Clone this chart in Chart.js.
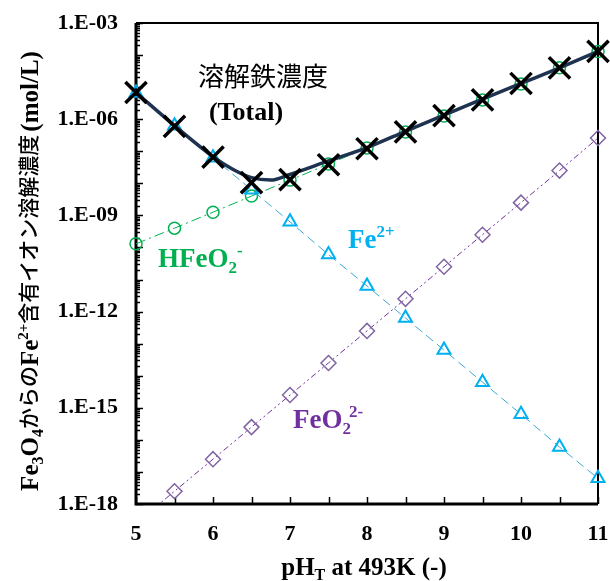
<!DOCTYPE html>
<html>
<head>
<meta charset="utf-8">
<script src="https://cdn.jsdelivr.net/npm/chart.js@4.4.0/dist/chart.umd.min.js"></script>
<style>
html,body{margin:0;padding:0;background:#fff;}
</style>
</head>
<body>
<canvas id="grafica" width="610" height="581"></canvas>
<script>
// pH points (0.5 step) and concentrations (mol/L)
var ph=[5,5.5,6,6.5,7,7.5,8,8.5,9,9.5,10,10.5,11];
var fe2=[6.6e-6,6.3e-7,6.3e-8,6.3e-9,6.3e-10,6.0e-11,6.3e-12,6.3e-13,6.3e-14,6.3e-15,6.3e-16,6.0e-17,6.3e-18];
var hfeo2=[1.3e-10,4.0e-10,1.26e-9,4.0e-9,1.26e-8,4.0e-8,1.26e-7,4.0e-7,1.26e-6,4.0e-6,1.26e-5,4.0e-5,1.3e-4];
var feo2=[2.5e-19,2.5e-18,2.5e-17,2.5e-16,2.5e-15,2.5e-14,2.5e-13,2.5e-12,2.5e-11,2.5e-10,2.5e-9,2.5e-8,2.6e-7];
var totalX=[6.8e-6,6.0e-7,6.6e-8,1.05e-8,1.3e-8,3.8e-8,1.2e-7,4.0e-7,1.3e-6,4.0e-6,1.3e-5,4.0e-5,1.3e-4];
// solid total curve
var phLinea=[5,5.5,6,6.25,6.5,6.75,7,7.5,8,8.5,9,9.5,10,10.5,11];
var totalLinea=[6.8e-6,6.3e-7,6.8e-8,2.8e-8,1.5e-8,1.26e-8,1.9e-8,5.0e-8,1.3e-7,4.2e-7,1.35e-6,4.2e-6,1.3e-5,4.0e-5,1.3e-4];
var ticksX=[5,6,7,8,9,10,11];
var ticksY=[1e-18,1e-15,1e-12,1e-9,1e-6,1e-3];

var serif="'Liberation Serif', 'Times New Roman', serif";
var cjk="'Noto Sans CJK JP', sans-serif";

function puntos(xs,ys){
  return xs.map(function(x,i){return {x:x,y:ys[i]};});
}

// draws a row of text pieces with their own font / offset
function textoRico(ctx,partes,x,y,centrado){
  var total=0;
  partes.forEach(function(p){
    ctx.font=p.f;
    p.w=ctx.measureText(p.t).width;
    total+=p.w+(p.g||0);
  });
  var cx=centrado?x-total/2:x;
  partes.forEach(function(p){
    ctx.font=p.f;
    ctx.fillText(p.t,cx,y+(p.dy||0));
    cx+=p.w+(p.g||0);
  });
}

var marco={
  id:'marco',
  beforeDatasetsDraw:function(chart){
    var ctx=chart.ctx,a=chart.chartArea,sx=chart.scales.x,sy=chart.scales.y;
    ctx.save();
    ctx.strokeStyle='#000';
    ctx.lineWidth=2;
    ctx.beginPath();
    ctx.moveTo(a.left,a.top);ctx.lineTo(a.right,a.top);ctx.lineTo(a.right,a.bottom);
    ctx.stroke();
    ctx.lineWidth=3;
    ctx.beginPath();
    ctx.moveTo(a.left,a.top);ctx.lineTo(a.left,a.bottom);ctx.lineTo(a.right,a.bottom);
    ctx.stroke();
    ctx.lineWidth=1.5;
    ctx.beginPath();
    for(var e=-18;e<=-3;e++){
      for(var m=1;m<10;m++){
        var v=m*Math.pow(10,e);
        if(v>1.0001e-3)break;
        var py=Math.round(sy.getPixelForValue(v))+0.5;
        ctx.moveTo(a.left,py);ctx.lineTo(a.left+(m==1?7:4),py);
      }
    }
    for(var t=5;t<=11;t+=0.5){
      var px=Math.round(sx.getPixelForValue(t))+0.5;
      ctx.moveTo(px,a.bottom);ctx.lineTo(px,a.bottom-7);
    }
    ctx.stroke();
    ctx.restore();
  },
  afterDraw:function(chart){
    var ctx=chart.ctx;
    ctx.save();
    ctx.textBaseline='alphabetic';
    ctx.fillStyle='#000';
    // x title
    textoRico(ctx,[
      {t:'pH',f:'bold 25px '+serif},
      {t:'T',f:'bold 16px '+serif,dy:5},
      {t:' at 493K (-)',f:'bold 25px '+serif}
    ],364,575,true);
    // y title
    ctx.save();
    ctx.translate(37.5,271);
    ctx.rotate(-Math.PI/2);
    textoRico(ctx,[
      {t:'Fe',f:'bold 25px '+serif},
      {t:'3',f:'bold 16px '+serif,dy:5},
      {t:'O',f:'bold 25px '+serif},
      {t:'4',f:'bold 16px '+serif,dy:5},
      {t:'からの',f:'500 21px '+cjk,dy:-2},
      {t:'Fe',f:'bold 25px '+serif},
      {t:'2+',f:'bold 15px '+serif,dy:-10},
      {t:'含有イオン溶解濃度',f:'500 21px '+cjk,dy:-2,g:3},
      {t:'(mol/L)',f:'bold 25px '+serif}
    ],0,0,true);
    ctx.restore();
    // labels inside the plot
    textoRico(ctx,[{t:'溶解鉄濃度',f:'26px '+cjk}],263,86,true);
    textoRico(ctx,[{t:'(Total)',f:'bold 26px '+serif}],246,120,true);
    ctx.fillStyle='#00B050';
    textoRico(ctx,[
      {t:'HFeO',f:'bold 27px '+serif},
      {t:'2',f:'bold 17px '+serif,dy:6},
      {t:'-',f:'bold 17px '+serif,dy:-11}
    ],158,267,false);
    ctx.fillStyle='#00B0F0';
    textoRico(ctx,[
      {t:'Fe',f:'bold 27px '+serif},
      {t:'2+',f:'bold 17px '+serif,dy:-11}
    ],348,248,false);
    ctx.fillStyle='#7030A0';
    textoRico(ctx,[
      {t:'FeO',f:'bold 27px '+serif},
      {t:'2',f:'bold 17px '+serif,dy:6,g:-2},
      {t:'2-',f:'bold 17px '+serif,dy:-11}
    ],293,428,false);
    ctx.restore();
  }
};

var grafica=new Chart(document.getElementById('grafica'),{
  type:'line',
  data:{
    datasets:[{
      label:'Total (X)',
      data:puntos(ph,totalX),
      showLine:false,
      pointStyle:'crossRot',
      pointRadius:15,
      pointBorderWidth:3.5,
      pointBorderColor:'#000',
      borderColor:'#000',
      clip:false,
      order:0
    },{
      label:'溶解鉄濃度 (Total)',
      data:puntos(phLinea,totalLinea),
      borderColor:'#1E3350',
      borderWidth:3.5,
      pointRadius:0,
      cubicInterpolationMode:'monotone',
      clip:false,
      order:1
    },{
      label:'Fe2+',
      data:puntos(ph,fe2),
      borderColor:'#3AA8D4',
      borderWidth:1,
      borderDash:[9,5],
      pointStyle:'triangle',
      pointRadius:7.5,
      pointBorderWidth:2,
      pointBorderColor:'#00B0F0',
      pointBackgroundColor:'rgba(0,0,0,0)',
      clip:false,
      order:2
    },{
      label:'HFeO2-',
      data:puntos(ph,hfeo2),
      borderColor:'#00B050',
      borderWidth:1,
      borderDash:[10,4,2,4],
      pointStyle:'circle',
      pointRadius:6,
      pointBorderWidth:1.5,
      pointBorderColor:'#00B050',
      pointBackgroundColor:'rgba(0,0,0,0)',
      clip:false,
      order:3
    },{
      label:'FeO2 2-',
      data:puntos(ph,feo2),
      borderColor:'#7030A0',
      borderWidth:1,
      borderDash:[6,3,2,3,2,3],
      pointStyle:'rectRot',
      pointRadius:7.5,
      pointBorderWidth:1.5,
      pointBorderColor:'#8064A2',
      pointBackgroundColor:'rgba(0,0,0,0)',
      clip:{left:0,top:0,right:12,bottom:0},
      order:4
    }]
  },
  options:{
    responsive:false,
    animation:false,
    layout:{autoPadding:false,padding:{top:23,right:12,left:0,bottom:0}},
    plugins:{legend:{display:false},tooltip:{enabled:false}},
    scales:{
      x:{
        type:'linear',min:5,max:11,
        grid:{display:false,drawTicks:false},
        border:{display:false},
        afterBuildTicks:function(s){s.ticks=ticksX.map(function(v){return {value:v};});},
        ticks:{padding:17,color:'#000',font:{family:serif,size:22,weight:'bold'}},
        afterFit:function(s){s.height=77;s.paddingLeft=0;s.paddingRight=0;}
      },
      y:{
        type:'logarithmic',min:1e-18,max:1e-3,
        grid:{display:false,drawTicks:false},
        border:{display:false},
        afterBuildTicks:function(s){s.ticks=ticksY.map(function(v){return {value:v};});},
        ticks:{
          padding:18,color:'#000',font:{family:serif,size:22,weight:'bold'},
          callback:function(v){
            var e=-Math.round(Math.log10(v));
            return '1.E-'+(e<10?'0':'')+e;
          }
        },
        afterFit:function(s){s.width=136;s.paddingTop=0;s.paddingBottom=0;}
      }
    }
  },
  plugins:[marco]
});
</script>
</body>
</html>
